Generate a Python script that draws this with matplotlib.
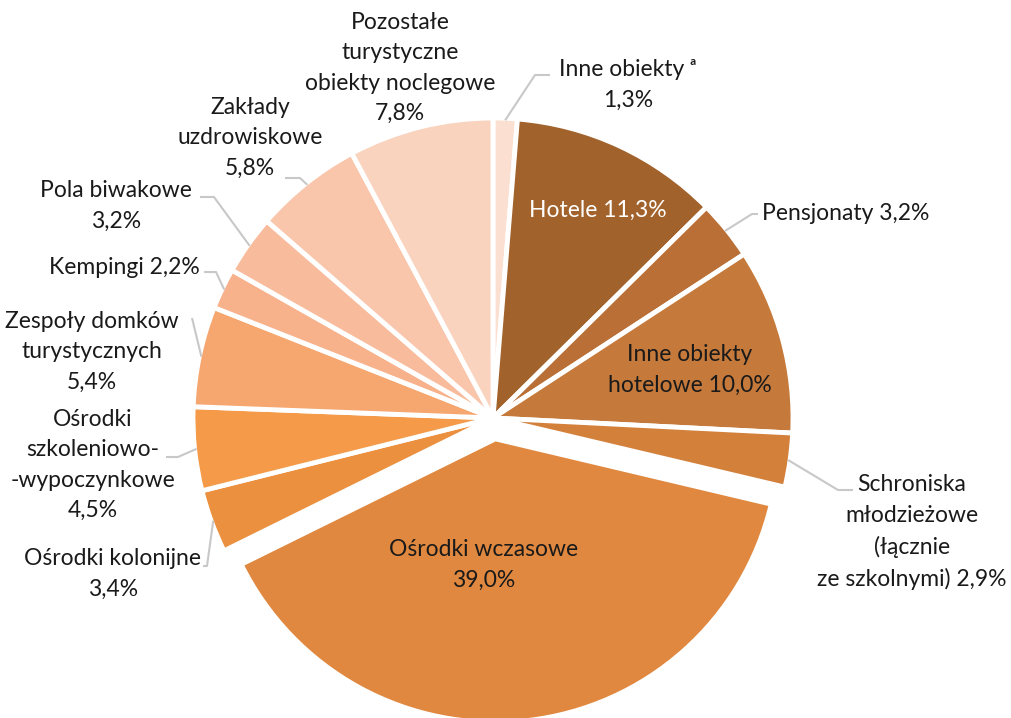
import numpy as np
import matplotlib.pyplot as plt

plt.rcParams['font.family'] = ['Lato', 'DejaVu Sans']

# shares of accommodation places, % (clockwise from the top)
categories = ['Inne obiekty', 'Hotele', 'Pensjonaty', 'Inne obiekty hotelowe',
              'Schroniska młodzieżowe', 'Ośrodki wczasowe', 'Ośrodki kolonijne',
              'Ośrodki szkoleniowo-wypoczynkowe', 'Zespoły domków turystycznych',
              'Kempingi', 'Pola biwakowe', 'Zakłady uzdrowiskowe',
              'Pozostałe turystyczne obiekty noclegowe']
values = [1.3, 11.3, 3.2, 10.0, 2.9, 39.0, 3.4, 4.5, 5.4, 2.2, 3.2, 5.8, 7.8]
labels = ['Inne obiekty ᵃ\n1,3%', 'Hotele 11,3%', 'Pensjonaty 3,2%',
          'Inne obiekty\nhotelowe 10,0%',
          'Schroniska\nmłodzieżowe\n(łącznie\nze szkolnymi) 2,9%',
          'Ośrodki wczasowe\n39,0%', 'Ośrodki kolonijne\n3,4%',
          'Ośrodki\nszkoleniowo-\n-wypoczynkowe\n4,5%',
          'Zespoły domków\nturystycznych\n5,4%', 'Kempingi 2,2%',
          'Pola biwakowe\n3,2%', 'Zakłady\nuzdrowiskowe\n5,8%',
          'Pozostałe\nturystyczne\nobiekty noclegowe\n7,8%']
colors = ['#FBE0D1', '#A2622C', '#B96F35', '#C5793A', '#D3803B', '#E0883F',
          '#EA903F', '#F49A48', '#F6A66F', '#F7B18B', '#F8BC9D', '#F9C6AC',
          '#FAD3BF']
explode = [0, 0, 0, 0, 0, 0.07, 0, 0, 0, 0, 0, 0, 0]

W, H = 1011, 718
cx, cy, R = 493, 418, 300

fig = plt.figure(figsize=(W / 100, H / 100), dpi=100)
ax = fig.add_axes([0, 0, 1, 1])

# y axis runs downward, so counterclock in data = clockwise on screen
# (pie's explode is an absolute offset, so scale it by the radius)
wedges, _ = ax.pie(values, colors=colors, explode=[e * R for e in explode],
                   startangle=-90, counterclock=True, center=(cx, cy), radius=R,
                   wedgeprops=dict(edgecolor='white', linewidth=3.5),
                   frame=True)
# the pulled-out slice is drawn a bit smaller, like in the original
for w, e in zip(wedges, explode):
    if e > 0:
        w.set_radius(R * 0.945)
ax.set_xlim(0, W)
ax.set_ylim(H, 0)
ax.set_aspect('equal')
ax.axis('off')

fs = 16.5
ls = 1.55
# label positions (text anchor) and leader elbows
inside = {1: (598, 210, 'white'), 3: (690, 370, '#1a1a1a'), 5: (484, 565, '#1a1a1a')}
outside = {
    0: (628, 85, 'center', (535, 75), (550, 75)),
    2: (762, 213, 'left', (752, 214), (758, 214)),
    4: (912, 532, 'center', (838, 490), (853, 490)),
    6: (113, 574, 'center', (207, 566), (203, 566)),
    7: (93, 465, 'center', (178, 457), (166, 457)),
    8: (92, 352, 'center', (192, 318), (192, 318)),
    9: (200, 268, 'right', (216, 272), (204, 272)),
    10: (116, 206, 'center', (214, 197), (200, 197)),
    11: (250, 138, 'center', (300, 178), (285, 178)),
    12: (400, 68, 'center', None, None),
}

for i, (x, y, c) in inside.items():
    ax.text(x, y, labels[i], ha='center', va='center', fontsize=fs, color=c,
            linespacing=ls)

for i, (x, y, ha, elbow, end) in outside.items():
    ax.text(x, y, labels[i], ha=ha, va='center', fontsize=fs, color='#1a1a1a',
            linespacing=ls)
    if elbow is None:
        continue
    w = wedges[i]
    mid = np.deg2rad((w.theta1 + w.theta2) / 2)
    sx = w.center[0] + (R - 2) * np.cos(mid)
    sy = w.center[1] + (R - 2) * np.sin(mid)
    ax.plot([sx, elbow[0], end[0]], [sy, elbow[1], end[1]], color='#C8C8C8',
            lw=1.5, solid_capstyle='butt')

fig.savefig('out.png', dpi=100)
